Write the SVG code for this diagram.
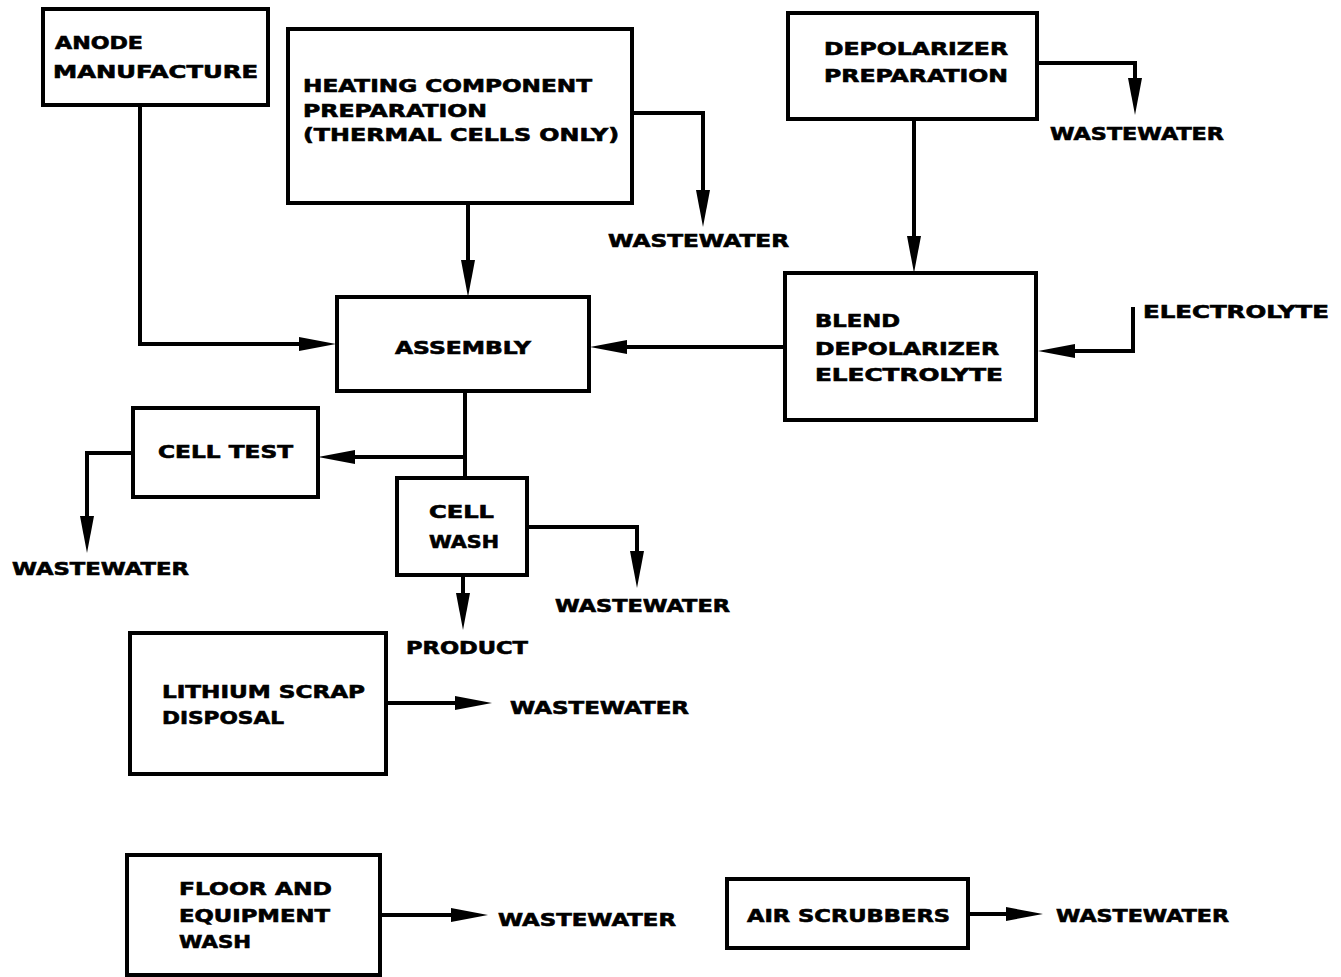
<svg xmlns="http://www.w3.org/2000/svg" width="1341" height="977" viewBox="0 0 1341 977">
  <style>
    .box { fill: #fff; stroke: #000; stroke-width: 4; }
    .ln { fill: none; stroke: #000; stroke-width: 4; stroke-linejoin: miter; }
    .arr { marker-end: url(#ah); }
    text { font-family: "DejaVu Sans", "Liberation Sans", sans-serif; font-weight: bold; font-size: 17px; fill: #000; stroke: #000; stroke-width: 0.6; }
  </style>
  <defs>
    <!-- long narrow filled arrowhead; tip sits 20px beyond the path end -->
    <marker id="ah" markerUnits="userSpaceOnUse" markerWidth="37" markerHeight="14" viewBox="0 0 37 14" refX="17" refY="7" orient="auto">
      <path d="M0,0 L37,7 L0,14 z" fill="#000"/>
    </marker>
  </defs>
  <rect width="1341" height="977" fill="#fff"/>

  <!-- connectors -->
  <g id="connectors">
    <path class="ln arr" d="M140,105 V344 H316"/>
    <path class="ln arr" d="M468,203 V277"/>
    <path class="ln arr" d="M632,113 H703 V207"/>
    <path class="ln arr" d="M1037,63 H1135 V95"/>
    <path class="ln arr" d="M914,120 V253"/>
    <path class="ln arr" d="M1133,307 V351 H1058"/>
    <path class="ln arr" d="M785,347 H610"/>
    <path class="ln" d="M465,391 V478"/>
    <path class="ln arr" d="M465,457 H338"/>
    <path class="ln arr" d="M133,453 H87 V533"/>
    <path class="ln arr" d="M527,527 H637 V568"/>
    <path class="ln arr" d="M463,575 V610"/>
    <path class="ln arr" d="M386,703 H472"/>
    <path class="ln arr" d="M380,915 H468"/>
    <path class="ln arr" d="M968,914 H1023"/>
  </g>

  <g id="anode">
    <rect class="box" x="43" y="9" width="225" height="96"/>
    <text x="55" y="49" textLength="88" lengthAdjust="spacingAndGlyphs">ANODE</text>
    <text x="53" y="78" textLength="205" lengthAdjust="spacingAndGlyphs">MANUFACTURE</text>
  </g>

  <g id="heating">
    <rect class="box" x="288" y="29" width="344" height="174"/>
    <text x="303" y="92" textLength="289" lengthAdjust="spacingAndGlyphs">HEATING COMPONENT</text>
    <text x="303" y="117" textLength="184" lengthAdjust="spacingAndGlyphs">PREPARATION</text>
    <text x="303" y="141" textLength="316" lengthAdjust="spacingAndGlyphs">(THERMAL CELLS ONLY)</text>
  </g>
  <g id="ww-heating"><text x="608" y="247" textLength="181" lengthAdjust="spacingAndGlyphs">WASTEWATER</text></g>

  <g id="depolarizer">
    <rect class="box" x="788" y="13" width="249" height="106"/>
    <text x="824" y="55" textLength="184" lengthAdjust="spacingAndGlyphs">DEPOLARIZER</text>
    <text x="824" y="82" textLength="184" lengthAdjust="spacingAndGlyphs">PREPARATION</text>
  </g>
  <g id="ww-depolarizer"><text x="1050" y="140" textLength="174" lengthAdjust="spacingAndGlyphs">WASTEWATER</text></g>

  <g id="blend">
    <rect class="box" x="785" y="273" width="251" height="147"/>
    <text x="815" y="327" textLength="85" lengthAdjust="spacingAndGlyphs">BLEND</text>
    <text x="815" y="355" textLength="184" lengthAdjust="spacingAndGlyphs">DEPOLARIZER</text>
    <text x="815" y="381" textLength="188" lengthAdjust="spacingAndGlyphs">ELECTROLYTE</text>
  </g>
  <g id="electrolyte"><text x="1143" y="318" textLength="186" lengthAdjust="spacingAndGlyphs">ELECTROLYTE</text></g>

  <g id="assembly">
    <rect class="box" x="337" y="297" width="252" height="94"/>
    <text x="395" y="354" textLength="136" lengthAdjust="spacingAndGlyphs">ASSEMBLY</text>
  </g>

  <g id="cell-test">
    <rect class="box" x="133" y="408" width="185" height="89"/>
    <text x="158" y="458" textLength="135" lengthAdjust="spacingAndGlyphs">CELL TEST</text>
  </g>
  <g id="ww-cell-test"><text x="12" y="575" textLength="177" lengthAdjust="spacingAndGlyphs">WASTEWATER</text></g>

  <g id="cell-wash">
    <rect class="box" x="397" y="478" width="130" height="97"/>
    <text x="429" y="518" textLength="65" lengthAdjust="spacingAndGlyphs">CELL</text>
    <text x="429" y="548" textLength="70" lengthAdjust="spacingAndGlyphs">WASH</text>
  </g>
  <g id="ww-cell-wash"><text x="555" y="612" textLength="175" lengthAdjust="spacingAndGlyphs">WASTEWATER</text></g>
  <g id="product"><text x="406" y="654" textLength="122" lengthAdjust="spacingAndGlyphs">PRODUCT</text></g>

  <g id="lithium-scrap">
    <rect class="box" x="130" y="633" width="256" height="141"/>
    <text x="162" y="698" textLength="203" lengthAdjust="spacingAndGlyphs">LITHIUM SCRAP</text>
    <text x="162" y="724" textLength="122" lengthAdjust="spacingAndGlyphs">DISPOSAL</text>
  </g>
  <g id="ww-lithium"><text x="510" y="714" textLength="179" lengthAdjust="spacingAndGlyphs">WASTEWATER</text></g>

  <g id="floor-wash">
    <rect class="box" x="127" y="855" width="253" height="120"/>
    <text x="179" y="895" textLength="153" lengthAdjust="spacingAndGlyphs">FLOOR AND</text>
    <text x="179" y="922" textLength="151" lengthAdjust="spacingAndGlyphs">EQUIPMENT</text>
    <text x="179" y="948" textLength="72" lengthAdjust="spacingAndGlyphs">WASH</text>
  </g>
  <g id="ww-floor"><text x="498" y="926" textLength="178" lengthAdjust="spacingAndGlyphs">WASTEWATER</text></g>

  <g id="air-scrubbers">
    <rect class="box" x="727" y="879" width="241" height="69"/>
    <text x="747" y="922" textLength="203" lengthAdjust="spacingAndGlyphs">AIR SCRUBBERS</text>
  </g>
  <g id="ww-air"><text x="1056" y="922" textLength="173" lengthAdjust="spacingAndGlyphs">WASTEWATER</text></g>
</svg>
